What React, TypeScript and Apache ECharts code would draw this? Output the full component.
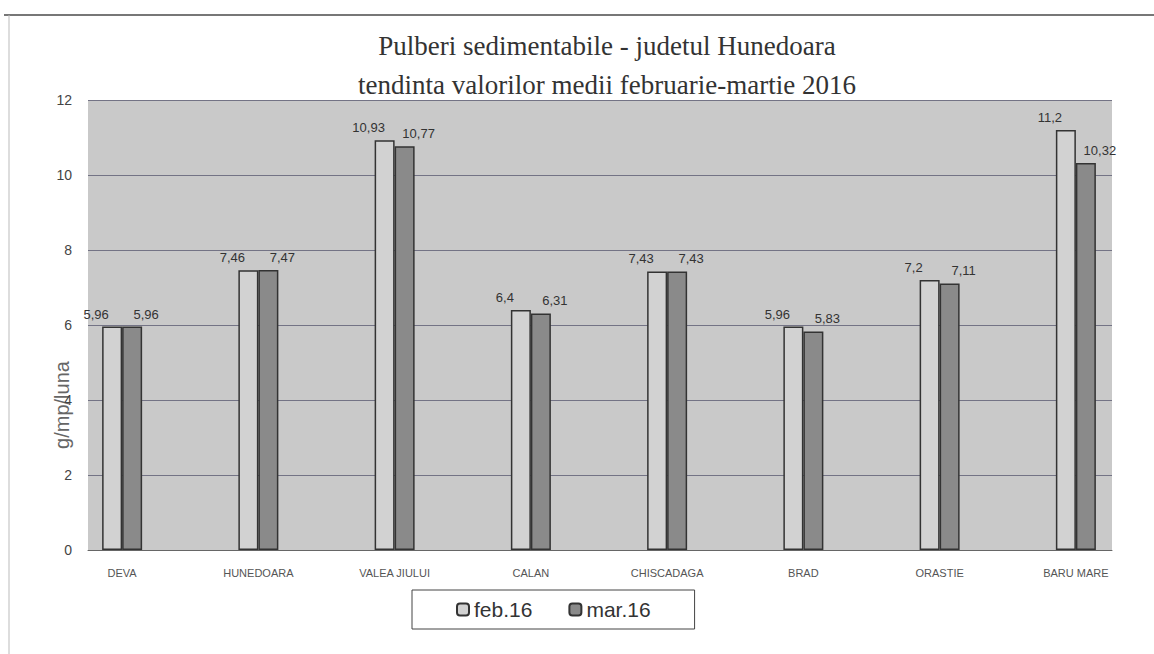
import React, { useEffect, useRef } from "react";
import * as echarts from "echarts";

const categories = ["DEVA", "HUNEDOARA", "VALEA JIULUI", "CALAN", "CHISCADAGA", "BRAD", "ORASTIE", "BARU MARE"];
const feb16 = [5.96, 7.46, 10.93, 6.4, 7.43, 5.96, 7.2, 11.2];
const mar16 = [5.96, 7.47, 10.77, 6.31, 7.43, 5.83, 7.11, 10.32];
const seriesNames = ["feb.16", "mar.16"];
const titleLines = ["Pulberi sedimentabile - judetul Hunedoara", "tendinta valorilor medii februarie-martie 2016"];
const yAxisName = "g/mp/luna";

export default function App() {
  const ref = useRef<HTMLDivElement>(null);
  useEffect(() => {
    if (!ref.current) return;
    const chart = echarts.init(ref.current, null, { renderer: "svg" });
    const mkLabel = (dx: number) => ({
      show: true,
      position: "top",
      distance: 6,
      offset: [dx, 0],
      fontFamily: "Liberation Sans",
      fontSize: 13,
      color: "#333",
      formatter: (p: any) => String(p.value).replace(".", ","),
    });
    chart.setOption({
      animation: false,
      backgroundColor: "#ffffff",
      legend: {
        data: seriesNames,
        left: 412,
        top: 590,
        padding: [9, 44],
        itemGap: 36,
        itemWidth: 12,
        itemHeight: 12,
        borderColor: "#444",
        borderWidth: 1,
        textStyle: { fontFamily: "Liberation Sans", fontSize: 21, color: "#333" },
      },
      grid: [
        { left: 88, right: 42, top: 100, bottom: 104, show: true, backgroundColor: "#c9c9c9", borderWidth: 0 },
        { left: 54, width: 1090, top: 100, bottom: 104 },
      ],
      xAxis: [
        {
          type: "category",
          gridIndex: 0,
          data: categories,
          axisLabel: { show: false },
          axisTick: { show: false },
          axisLine: { show: true, lineStyle: { color: "#666", width: 1 } },
        },
        {
          type: "category",
          gridIndex: 1,
          data: categories,
          axisLine: { show: false },
          axisTick: { show: false },
          axisLabel: { margin: 17, fontFamily: "Liberation Sans", fontSize: 11, color: "#555" },
        },
      ],
      yAxis: [
        {
          type: "value",
          gridIndex: 0,
          min: 0,
          max: 12,
          interval: 2,
          axisLine: { show: false },
          axisTick: { show: false },
          axisLabel: { margin: 16, fontFamily: "Liberation Sans", fontSize: 14, color: "#444" },
          splitLine: { show: true, lineStyle: { color: "#5e5e74", width: 1, opacity: 0.8 } },
        },
        { type: "value", gridIndex: 1, min: 0, max: 12, show: false },
      ],
      series: [
        {
          name: seriesNames[0],
          type: "bar",
          xAxisIndex: 1,
          yAxisIndex: 1,
          data: feb16,
          barWidth: 20,
          barGap: "0%",
          itemStyle: { color: "#d2d2d2", borderColor: "#333", borderWidth: 1.5 },
          label: mkLabel(-16),
        },
        {
          name: seriesNames[1],
          type: "bar",
          xAxisIndex: 1,
          yAxisIndex: 1,
          data: mar16,
          barWidth: 20,
          barGap: "0%",
          itemStyle: { color: "#8a8a8a", borderColor: "#333", borderWidth: 1.5 },
          label: mkLabel(14),
        },
      ],
      graphic: [
        { type: "line", shape: { x1: 4, y1: 15, x2: 1154, y2: 15 }, style: { stroke: "#777", lineWidth: 2 } },
        { type: "line", shape: { x1: 9, y1: 15, x2: 9, y2: 654 }, style: { stroke: "#bbb", lineWidth: 1 } },
        {
          type: "text",
          x: 607,
          y: 46,
          style: {
            text: titleLines[0],
            fontFamily: "Liberation Serif",
            fontSize: 27,
            fill: "#333",
            align: "center",
            verticalAlign: "middle",
          },
        },
        {
          type: "text",
          x: 607,
          y: 85,
          style: {
            text: titleLines[1],
            fontFamily: "Liberation Serif",
            fontSize: 27,
            fill: "#333",
            align: "center",
            verticalAlign: "middle",
          },
        },
        {
          type: "text",
          x: 62,
          y: 405,
          rotation: Math.PI / 2,
          style: {
            text: yAxisName,
            fontFamily: "Liberation Sans",
            fontSize: 20,
            fill: "#666",
            align: "center",
            verticalAlign: "middle",
          },
        },
      ],
    });
    return () => chart.dispose();
  }, []);
  return <div ref={ref} style={{ position: "absolute", left: 0, top: 0, width: 1154, height: 654 }} />;
}
